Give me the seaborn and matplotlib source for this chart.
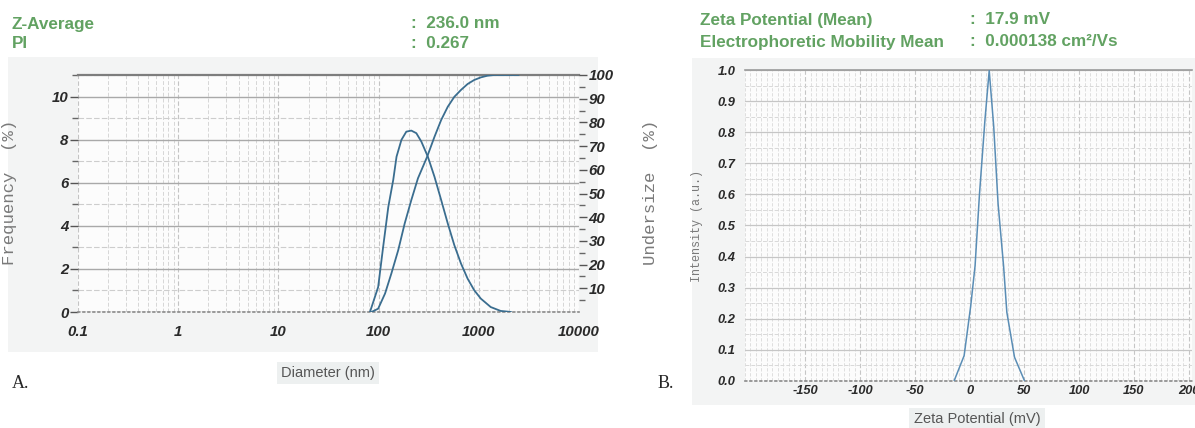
import numpy as np
import matplotlib
matplotlib.use("Agg")
import matplotlib.pyplot as plt
import seaborn as sns
from matplotlib.ticker import LogLocator, NullFormatter
from matplotlib.patches import Rectangle

# ---------------- data ----------------
diameter_freq_nm = [82, 99, 111, 125, 140, 151, 169, 189, 212, 238, 267, 310, 361,
                    421, 490, 570, 664, 773, 900, 1048, 1315, 1652, 2100]
frequency_pct = [0, 1.16, 3.02, 4.88, 6.13, 7.21, 7.99, 8.37, 8.42, 8.30, 7.91, 7.21,
                 6.28, 5.20, 4.11, 3.10, 2.25, 1.55, 1.01, 0.62, 0.23, 0.05, 0]
diameter_cum_nm = [85, 99, 116, 134, 157, 182, 212, 247, 305, 361, 421, 490, 570,
                   664, 773, 900, 1048, 1219, 1419, 1923, 2500]
undersize_pct = [0, 1.4, 7.8, 16.2, 26.1, 37.3, 47.2, 56.4, 65.5, 73.9, 81.0, 86.6,
                 90.8, 93.7, 96.2, 97.9, 99.0, 99.7, 100, 100, 100]

zeta_mv = [-14, -5, 1, 5, 9, 14, 17.9, 22, 26, 31, 34, 41, 50]
intensity = [0, 0.08, 0.24, 0.37, 0.60, 0.84, 1.0, 0.82, 0.57, 0.37, 0.22, 0.075, 0]

x_ticks_a = [0.1, 1, 10, 100, 1000, 10000]
x_labels_a = ["0.1", "1", "10", "100", "1000", "10000"]
freq_ticks = [0, 2, 4, 6, 8, 10]
under_ticks = [10, 20, 30, 40, 50, 60, 70, 80, 90, 100]
zeta_ticks = [-150, -100, -50, 0, 50, 100, 150, 200]
int_ticks = [0.0, 0.1, 0.2, 0.3, 0.4, 0.5, 0.6, 0.7, 0.8, 0.9, 1.0]

# ---------------- style ----------------
sns.set_style("white")
plt.rcParams["font.family"] = ["Liberation Sans", "DejaVu Sans"]

W, H = 1195, 428
fig = plt.figure(figsize=(W / 100, H / 100), dpi=100)
fig.patch.set_facecolor("white")

def fx(px):
    return px / W

def fy(py):
    return 1 - py / H

# light scan-like panel backgrounds
fig.add_artist(Rectangle((fx(8), fy(352)), fx(590), 295 / H, transform=fig.transFigure,
                         facecolor="#f3f4f4", edgecolor="none", zorder=0))
fig.add_artist(Rectangle((fx(692), fy(405)), fx(503), 347 / H, transform=fig.transFigure,
                         facecolor="#f3f4f4", edgecolor="none", zorder=0))

green = "#62a262"
hdr = dict(color=green, fontsize=12.3, fontweight="bold", va="center", ha="left")
fig.text(fx(12), fy(24), "Z-Average", **hdr)
fig.text(fx(12), fy(43), "PI", **hdr)
fig.text(fx(411), fy(24), ":  236.0 nm", **hdr)
fig.text(fx(411), fy(43), ":  0.267", **hdr)
fig.text(fx(700), fy(20), "Zeta Potential (Mean)", **hdr)
fig.text(fx(700), fy(42), "Electrophoretic Mobility Mean", **hdr)
fig.text(fx(970), fy(20), ":  17.9 mV", **hdr)
fig.text(fx(970), fy(42), ":  0.000138 cm\u00b2/Vs", **hdr)

fig.text(fx(12), fy(384), "A.", family="Liberation Serif", fontsize=13, va="center", ha="left")
fig.text(fx(658), fy(384), "B.", family="Liberation Serif", fontsize=13, va="center", ha="left")

tick_font = dict(fontfamily="Liberation Sans", fontweight="bold", fontstyle="italic", color="#2a2a2a")
line_col_a = "#3a6d8f"
line_col_b = "#5a8db5"

# ---------------- panel A ----------------
axA = fig.add_axes([fx(78), fy(312), fx(501), 237 / H])
axA.set_facecolor("#fcfcfc")
axA.set_axisbelow(True)
sns.lineplot(x=diameter_freq_nm, y=frequency_pct, ax=axA, color=line_col_a, lw=1.3, zorder=5)
axA.set_xscale("log")
axA.set_xlim(0.1, 10000)
axA.set_ylim(0, 11)

axA.set_xticks(x_ticks_a, labels=x_labels_a, fontsize=10.8, **tick_font)
axA.xaxis.set_minor_locator(LogLocator(base=10, subs=np.arange(2, 10), numticks=100))
axA.xaxis.set_minor_formatter(NullFormatter())
axA.set_yticks(freq_ticks, labels=[str(v) for v in freq_ticks], fontsize=10.8, **tick_font)
axA.set_yticks([1, 3, 5, 7, 9, 11], minor=True)
axA.tick_params(axis="x", which="major", direction="in", length=7, width=1.0, color="#555", pad=9)
axA.tick_params(axis="x", which="minor", direction="in", length=4, width=1.0, color="#666")
axA.tick_params(axis="y", which="major", direction="out", length=6, width=1.0, color="#555", pad=1)
axA.tick_params(axis="y", which="minor", direction="out", length=4, width=1.0, color="#666")

axA.grid(which="major", axis="y", color="#a9a9a9", lw=1.0)
axA.grid(which="minor", axis="y", color="#cdcdcd", lw=0.8, ls=(0, (5, 2)))
axA.grid(which="major", axis="x", color="#c4c4c4", lw=0.8, ls=(0, (4, 2)))
axA.grid(which="minor", axis="x", color="#d6d6d6", lw=0.7, ls=(0, (4, 2)))

for s in ["left", "right"]:
    axA.spines[s].set_visible(False)
axA.spines["top"].set_color("#7d7d7d")
axA.spines["top"].set_linewidth(1.6)
axA.spines["bottom"].set_color("#8a8a8a")
axA.spines["bottom"].set_linestyle((0, (1, 2)))
axA.spines["bottom"].set_linewidth(1.2)

axA.set_xlabel("Diameter (nm)", fontsize=10.5, color="#555555",
               bbox=dict(facecolor="#edf0f0", edgecolor="none", pad=3))
axA.xaxis.set_label_coords((328 - 78) / 501, (312 - 373) / 237)
axA.xaxis.label.set_va("center")
axA.set_ylabel("Frequency  (%)", family="Liberation Mono", fontsize=12.5, color="#7a7a7a")
axA.yaxis.set_label_coords((17 - 78) / 501, (312 - 192) / 237)

axU = axA.twinx()
sns.lineplot(x=diameter_cum_nm, y=undersize_pct, ax=axU, color=line_col_a, lw=1.3, zorder=5)
axU.set_ylim(0, 100)
axU.set_yticks(under_ticks, labels=[str(v) for v in under_ticks], fontsize=10.8, **tick_font)
axU.set_yticks(list(range(5, 100, 10)), minor=True)
axU.tick_params(axis="y", which="major", direction="out", length=6, width=1.0, color="#555", pad=1)
axU.tick_params(axis="y", which="minor", direction="out", length=4, width=1.0, color="#666")
for s in ["left", "right", "top", "bottom"]:
    axU.spines[s].set_visible(False)
axU.set_ylabel("Undersize  (%)", family="Liberation Mono", fontsize=12.5, color="#7a7a7a",
               rotation=90)
axU.yaxis.set_label_coords((643 - 78) / 501, (312 - 192) / 237)

# ---------------- panel B ----------------
axB = fig.add_axes([fx(745), fy(380.5), fx(447), 310 / H])
axB.set_facecolor("#fcfcfc")
axB.set_axisbelow(True)
sns.lineplot(x=zeta_mv, y=intensity, ax=axB, color=line_col_b, lw=1.1, zorder=5)
axB.set_xlim(-205, 203)
axB.set_ylim(0, 1.0)
axB.set_xticks(zeta_ticks, labels=[str(v) for v in zeta_ticks], fontsize=9.3, **tick_font)
axB.set_xticks(list(range(-205, 205, 5)), minor=True)
axB.set_yticks(int_ticks, labels=[f"{v:.1f}" for v in int_ticks], fontsize=9.3, **tick_font)
axB.set_yticks(list(np.arange(0.05, 1.0, 0.1)), minor=True)
axB.tick_params(axis="x", which="major", direction="in", length=6, width=1.0, color="#555", pad=3)
axB.tick_params(axis="x", which="minor", direction="in", length=3.5, width=1.0, color="#666")
axB.tick_params(axis="y", which="major", direction="out", length=6, width=1.0, color="#555", pad=1)
axB.tick_params(axis="y", which="minor", direction="out", length=4, width=1.0, color="#666")

axB.grid(which="major", axis="y", color="#c6c6c6", lw=0.9)
axB.grid(which="minor", axis="y", color="#d8d8d8", lw=0.7, ls=(0, (4, 2)))
axB.grid(which="major", axis="x", color="#c6c6c6", lw=0.8, ls=(0, (4, 2)))
axB.grid(which="minor", axis="x", color="#dadada", lw=0.6, ls=(0, (4, 2)))

for s in ["left", "right"]:
    axB.spines[s].set_visible(False)
axB.spines["top"].set_color("#9a9a9a")
axB.spines["top"].set_linewidth(1.2)
axB.spines["bottom"].set_color("#8a8a8a")
axB.spines["bottom"].set_linestyle((0, (1, 2)))
axB.spines["bottom"].set_linewidth(1.2)

axB.set_xlabel("Zeta Potential (mV)", fontsize=10.5, color="#555555",
               bbox=dict(facecolor="#edf0f0", edgecolor="none", pad=3))
axB.xaxis.set_label_coords((977 - 745) / 447, (380.5 - 419) / 310)
axB.xaxis.label.set_va("center")
axB.set_ylabel("Intensity (a.u.)", family="Liberation Mono", fontsize=8.5, color="#7a7a7a")
axB.yaxis.set_label_coords((703 - 745) / 447, (380.5 - 226) / 310)

fig.savefig("out.png", dpi=100, facecolor="white")
